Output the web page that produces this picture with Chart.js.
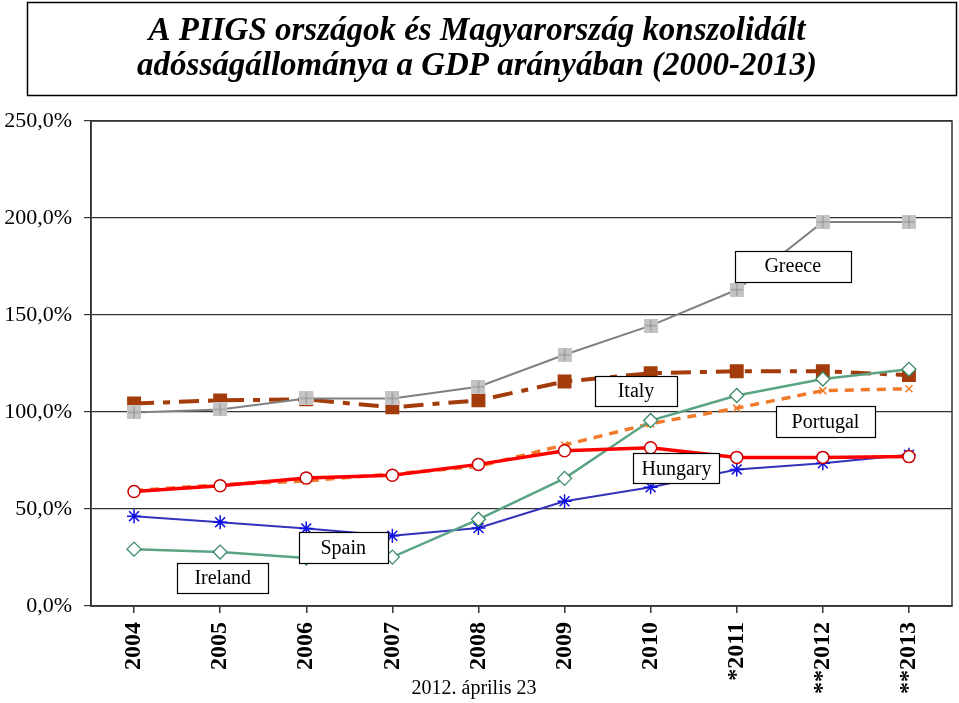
<!DOCTYPE html>
<html>
<head>
<meta charset="utf-8">
<script src="https://cdn.jsdelivr.net/npm/chart.js@4.4.1/dist/chart.umd.min.js"></script>
<style>
html,body{margin:0;padding:0;background:#fff;}
#wrap{position:relative;width:959px;height:703px;}
</style>
</head>
<body>
<div id="wrap"><canvas id="debtChart" width="959" height="703"></canvas></div>
<script>
/* =====================================================
DATA (GDP %)
===================================================== */

const years=["2004","2005","2006","2007","2008","2009","2010","*2011","**2012","**2013"]

const greece=[99.8,101.3,107,107,113,129.5,144.5,163,198,198]
const italy=[104.4,106,106.5,102.4,106,115.7,120,121,121,119]
const portugal=[59.5,62.5,64.5,68,72,83,94,102,111,112]
const hungary=[59,62,66,67.4,73,80,81.6,76.6,76.6,77]
const spain=[46.3,43.2,40,36.2,40.2,54,61.2,70.4,73.6,78]
const ireland=[29.3,27.8,24.7,25.2,44.7,65.8,95.6,108.5,117,122]

const yTicks=[0,50,100,150,200,250]

const titleLines=["A PIIGS országok és Magyarország konszolidált","adósságállománya a GDP arányában (2000-2013)"]
const footer="2012. április 23"


/* =====================================================
MARKER FOR GREECE (grey square with a cross)
===================================================== */

function greeceMarker(){
const c=document.createElement("canvas")
c.width=14
c.height=14
const g=c.getContext("2d")
g.fillStyle="#c4c4c4"
g.fillRect(0,0,14,14)
g.strokeStyle="#8c8c8c"
g.lineWidth=1
g.beginPath()
g.moveTo(7,1);g.lineTo(7,13)
g.moveTo(1,7);g.lineTo(13,7)
g.stroke()
return c
}


/* =====================================================
LABEL BOXES + TITLE + FRAME
===================================================== */

const boxes=[
{text:"Greece",x:7.65,y:175.2,w:116,h:31},
{text:"Italy",x:5.83,y:111,w:82,h:30},
{text:"Portugal",x:8.03,y:95.2,w:99,h:31},
{text:"Hungary",x:6.3,y:71,w:86,h:30},
{text:"Spain",x:2.43,y:30.1,w:89,h:31},
{text:"Ireland",x:1.03,y:14.4,w:91,h:30}
]

const decor={
id:"decor",
beforeDraw(chart){
const ctx=chart.ctx
ctx.save()
ctx.fillStyle="#fff"
ctx.fillRect(0,0,chart.width,chart.height)

/* title box */
ctx.strokeStyle="#000"
ctx.lineWidth=1.5
ctx.strokeRect(27.5,2.5,929,93)

ctx.fillStyle="#000"
ctx.font="bold italic 33px 'Liberation Serif'"
ctx.textAlign="center"
ctx.textBaseline="alphabetic"
const w1=ctx.measureText(titleLines[0]).width
const sx=657/w1
ctx.translate(477,0)
ctx.scale(sx,1)
ctx.fillText(titleLines[0],0,40)
ctx.fillText(titleLines[1],0,75)
ctx.restore()

/* footer */
ctx.save()
ctx.fillStyle="#000"
ctx.font="20px 'Liberation Serif'"
ctx.textAlign="center"
ctx.textBaseline="alphabetic"
ctx.fillText(footer,474,694)
ctx.restore()
},
afterDraw(chart){
const ctx=chart.ctx
const a=chart.chartArea
const xs=chart.scales.x
const ys=chart.scales.y

ctx.save()
ctx.strokeStyle="#333"
ctx.lineWidth=1.5
ctx.strokeRect(a.left,a.top,a.right-a.left,a.bottom-a.top)

ctx.font="20px 'Liberation Serif'"
ctx.textAlign="center"
ctx.textBaseline="middle"
boxes.forEach(b=>{
const cx=xs.getPixelForValue(b.x)
const cy=ys.getPixelForValue(b.y)
const l=Math.round(cx-b.w/2)+0.5
const t=Math.round(cy-b.h/2)+0.5
ctx.fillStyle="#fff"
ctx.fillRect(l,t,b.w,b.h)
ctx.strokeStyle="#000"
ctx.lineWidth=1.2
ctx.strokeRect(l,t,b.w,b.h)
ctx.fillStyle="#000"
ctx.fillText(b.text,cx,cy+1)
})
ctx.restore()
}
}


/* =====================================================
CHART
===================================================== */

const ctx=document.getElementById("debtChart")

new Chart(ctx,{
type:"line",
data:{
labels:years,
datasets:[
{
label:"Hungary",
data:hungary,
borderColor:"#ff0000",
borderWidth:3.5,
pointStyle:"circle",
pointRadius:6,
pointBackgroundColor:"#fff",
pointBorderColor:"#cc0000",
pointBorderWidth:1.5
},
{
label:"Greece",
data:greece,
borderColor:"#808080",
borderWidth:2,
pointStyle:greeceMarker()
},
{
label:"Ireland",
data:ireland,
borderColor:"#5aa383",
borderWidth:2.5,
pointStyle:"rectRot",
pointRadius:7,
pointBackgroundColor:"#fff",
pointBorderColor:"#3d8a68",
pointBorderWidth:1.3
},
{
label:"Spain",
data:spain,
borderColor:"#3333bb",
borderWidth:2,
pointStyle:"star",
pointRadius:7,
pointBorderColor:"#1010e0",
pointBorderWidth:1.5
},
{
label:"Portugal",
data:portugal,
borderColor:"#f07a2a",
borderWidth:3.5,
borderDash:[9,7],
pointStyle:"crossRot",
pointRadius:5,
pointBorderColor:"#f07a2a",
pointBorderWidth:1.5
},
{
label:"Italy",
data:italy,
borderColor:"#a33c0a",
borderWidth:4,
borderDash:[20,9,7,9],
pointStyle:"rect",
pointRadius:7,
pointBackgroundColor:"#a33c0a",
pointBorderColor:"#a33c0a"
}
]
},
options:{
responsive:false,
animation:false,
events:[],
layout:{autoPadding:false,padding:{top:121,right:7,left:0,bottom:0}},
plugins:{
legend:{display:false},
tooltip:{enabled:false},
title:{display:false}
},
elements:{line:{tension:0}},
scales:{
x:{
offset:true,
grid:{drawOnChartArea:false,drawTicks:true,tickLength:7,color:"#333",lineWidth:1.5},
border:{display:true,color:"#333",width:1.5},
ticks:{
autoSkip:false,
maxRotation:90,
minRotation:90,
padding:9,
color:"#000",
font:{family:"'Liberation Serif'",size:24,weight:"bold"}
},
afterFit(s){
s.height=97
s.paddingLeft=0
s.paddingRight=0
}
},
y:{
min:0,
max:250,
afterBuildTicks(s){s.ticks=yTicks.map(v=>({value:v}))},
grid:{color:"#333",lineWidth:1.2,tickLength:7},
border:{display:true,color:"#333",width:1.5},
ticks:{
padding:12,
color:"#000",
font:{family:"'Liberation Serif'",size:22},
callback:v=>v.toFixed(1).replace(".",",")+"%"
},
afterFit(s){
s.width=91
s.paddingTop=0
s.paddingBottom=0
}
}
}
},
plugins:[decor]
})
</script>
</body>
</html>
